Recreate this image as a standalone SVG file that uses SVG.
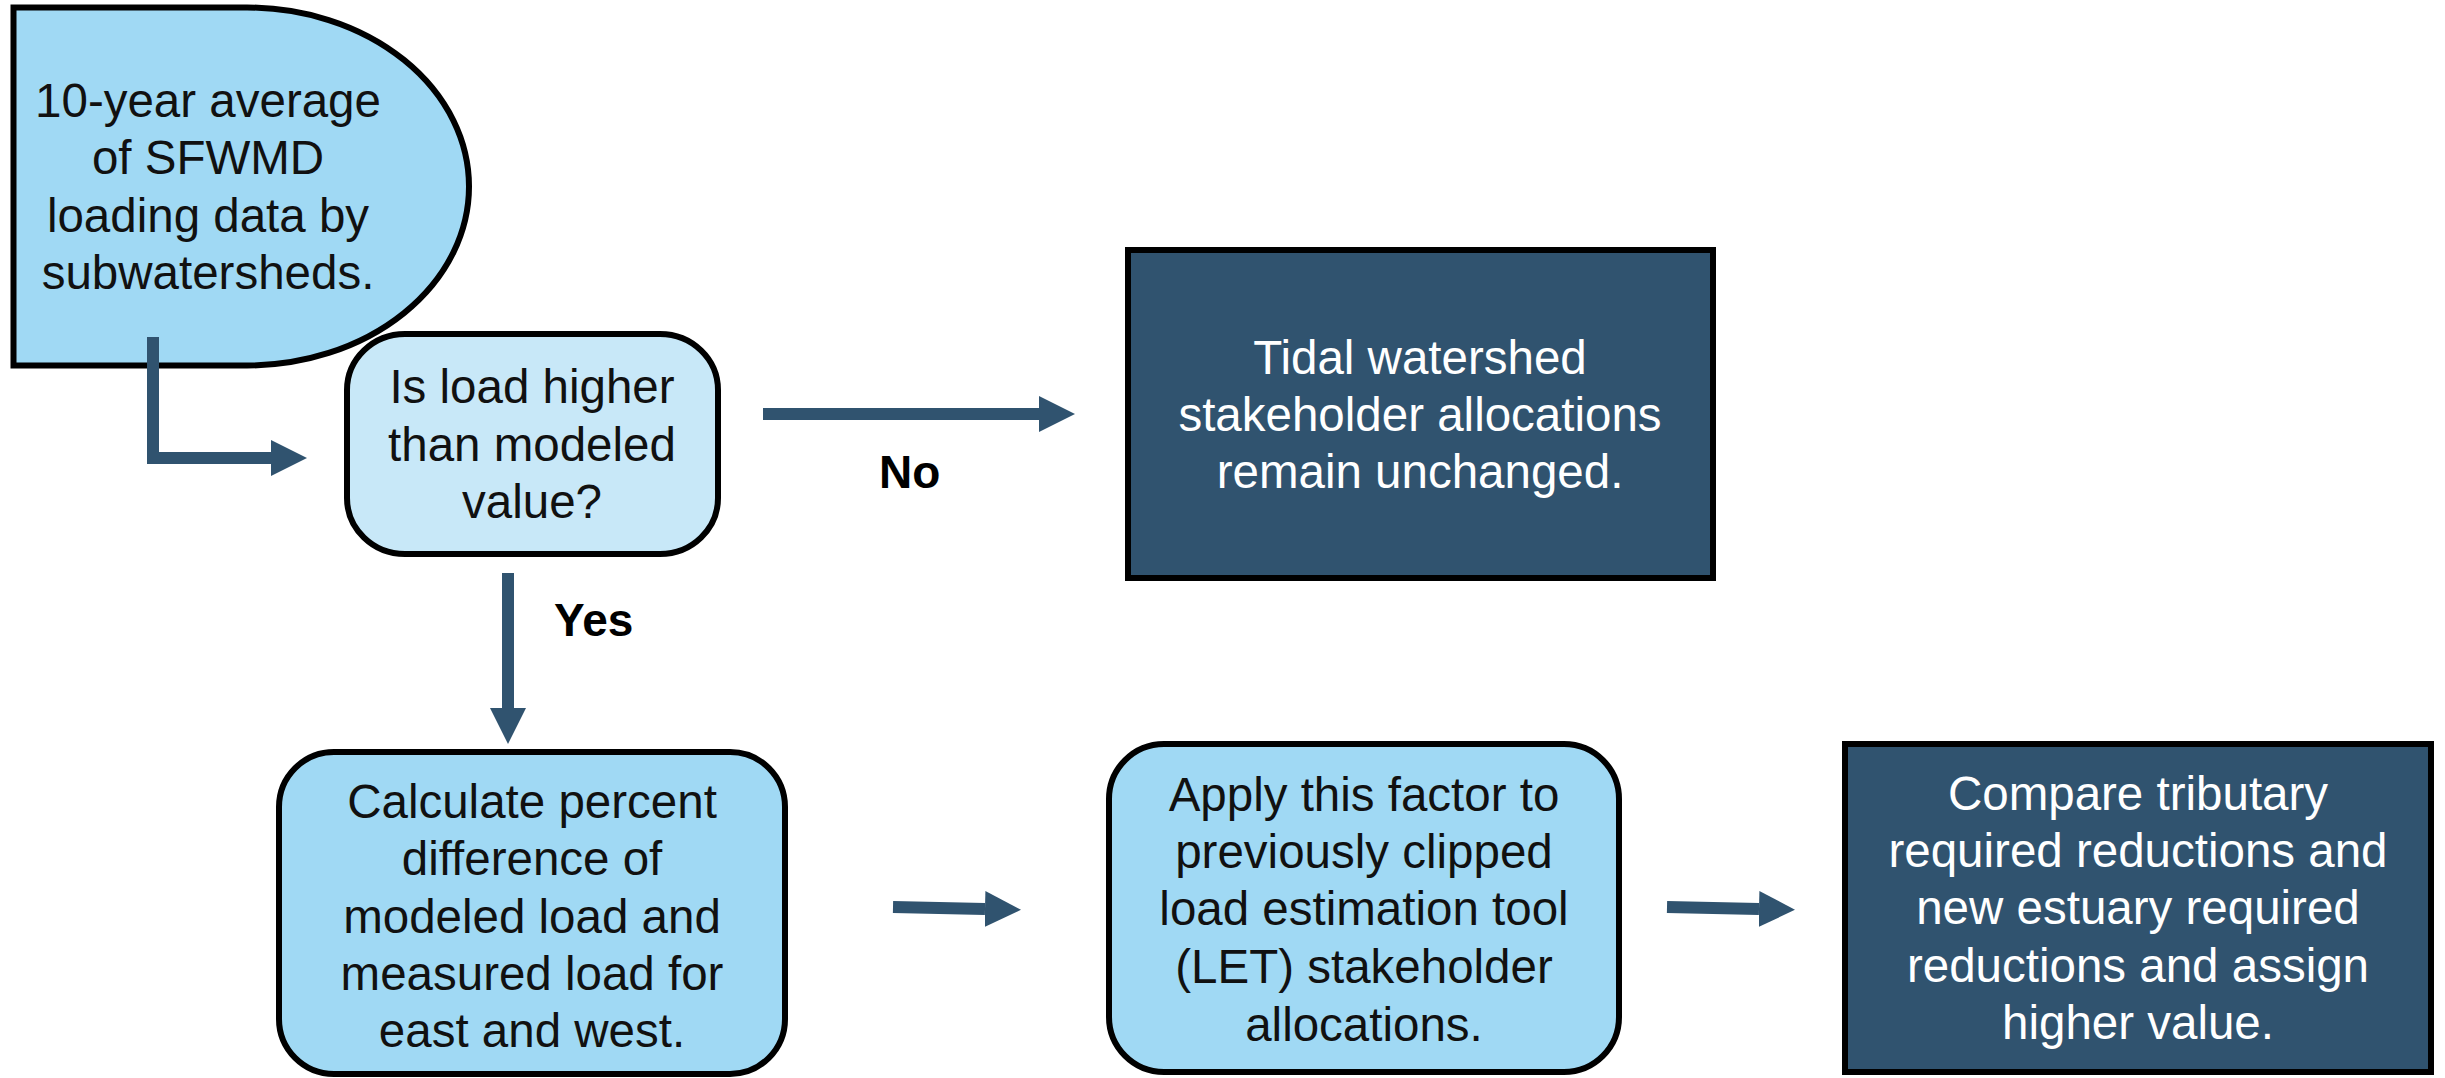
<svg xmlns="http://www.w3.org/2000/svg" width="2445" height="1078" viewBox="0 0 2445 1078">
<defs>
<style>
.t{font-family:"Liberation Sans",Arial,sans-serif;font-size:47.5px;text-anchor:middle;fill:#111}
.w{fill:#fff}
.lbl{font-family:"Liberation Sans",Arial,sans-serif;font-size:46px;font-weight:bold;fill:#000}
.light{fill:#A0D9F4;stroke:#000;stroke-width:6}
.pale{fill:#C8E8F8;stroke:#000;stroke-width:6}
.dark{fill:#30536F;stroke:#000;stroke-width:6}
.c{fill:none;stroke:#30536F;stroke-width:12;stroke-linejoin:miter}
</style>
<marker id="ah" markerUnits="userSpaceOnUse" markerWidth="36" markerHeight="36" refX="0" refY="18" orient="auto">
<path d="M0,0 L36,18 L0,36 Z" fill="#30536F"/>
</marker>
</defs>
<rect width="2445" height="1078" fill="#fff"/>
<g id="n1">
<path class="light" stroke-width="5.5" d="M13.5,7.5 H247 A222,179 0 0 1 247,365.5 H13.5 Z"/>
<text class="t" x="208" y="117">10-year average</text>
<text class="t" x="208" y="174">of SFWMD</text>
<text class="t" x="208" y="232">loading data by</text>
<text class="t" x="208" y="289">subwatersheds.</text>
</g>
<g id="n2">
<rect class="pale" x="347" y="334" width="371" height="220" rx="58" ry="56"/>
<text class="t" x="532" y="403">Is load higher</text>
<text class="t" x="532" y="461">than modeled</text>
<text class="t" x="532" y="518">value?</text>
</g>
<g id="n3">
<rect class="dark" x="1128" y="250" width="585" height="328"/>
<text class="t w" x="1420" y="374">Tidal watershed</text>
<text class="t w" x="1420" y="431">stakeholder allocations</text>
<text class="t w" x="1420" y="488">remain unchanged.</text>
</g>
<g id="n4">
<rect class="light" x="279" y="752" width="506" height="322" rx="55"/>
<text class="t" x="532" y="818">Calculate percent</text>
<text class="t" x="532" y="875">difference of</text>
<text class="t" x="532" y="933">modeled load and</text>
<text class="t" x="532" y="990">measured load for</text>
<text class="t" x="532" y="1047">east and west.</text>
</g>
<g id="n5">
<rect class="light" x="1109" y="744" width="510" height="328" rx="55"/>
<text class="t" x="1364" y="811">Apply this factor to</text>
<text class="t" x="1364" y="868">previously clipped</text>
<text class="t" x="1364" y="925">load estimation tool</text>
<text class="t" x="1364" y="983">(LET) stakeholder</text>
<text class="t" x="1364" y="1041">allocations.</text>
</g>
<g id="n6">
<rect class="dark" x="1845" y="744" width="586" height="328"/>
<text class="t w" x="2138" y="810">Compare tributary</text>
<text class="t w" x="2138" y="867">required reductions and</text>
<text class="t w" x="2138" y="924">new estuary required</text>
<text class="t w" x="2138" y="982">reductions and assign</text>
<text class="t w" x="2138" y="1039">higher value.</text>
</g>
<g id="connectors">
<path class="c" d="M153,337 V458 H271" marker-end="url(#ah)"/>
<path class="c" d="M763,414 H1039" marker-end="url(#ah)"/>
<path class="c" d="M508,573 V708" marker-end="url(#ah)"/>
<path class="c" d="M893,907 L985,909" marker-end="url(#ah)"/>
<path class="c" d="M1667,907 L1759,909" marker-end="url(#ah)"/>
<text class="lbl" x="879" y="488">No</text>
<text class="lbl" x="554" y="636">Yes</text>
</g>
</svg>
